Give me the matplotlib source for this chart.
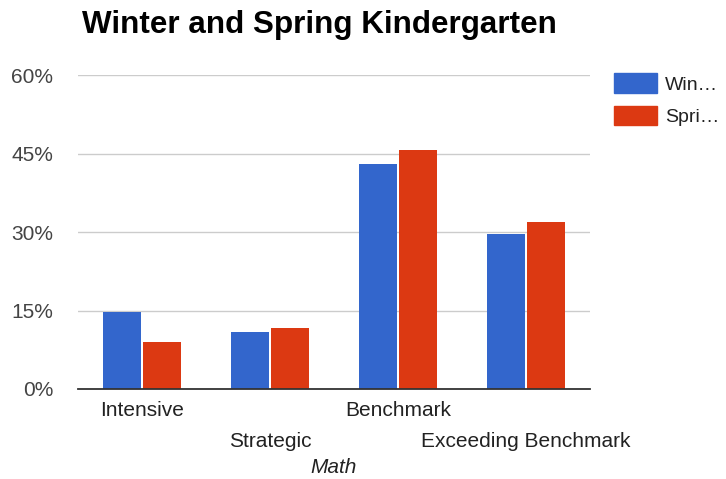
import numpy as np
import matplotlib
matplotlib.use("Agg")
import matplotlib.pyplot as plt
from matplotlib.patches import Patch

# math screening results, share of students per level
levels = ["Intensive", "Strategic", "Benchmark", "Exceeding Benchmark"]
winter = [14.7, 10.8, 43.0, 29.6]
spring = [8.9, 11.6, 45.7, 31.9]
series_labels = ["Win\u2026", "Spri\u2026"]
yticks = [0, 15, 30, 45, 60]

blue = "#3366cc"
red = "#dc3912"

plt.rcParams['font.family'] = ['Liberation Sans', 'DejaVu Sans']
fs = 15

fig = plt.figure(figsize=(7.26, 4.79), dpi=100)
W, H = 726, 479
ax = fig.add_axes([78 / W, 90 / H, 512 / W, 314 / H])

x = np.arange(len(levels))
bw = 0.297
off = 0.156
ax.bar(x - off, winter, bw, color=blue, zorder=3)
ax.bar(x + off, spring, bw, color=red, zorder=3)

ax.set_xlim(-0.5, len(levels) - 0.5)
ax.set_ylim(0, 60)
ax.set_yticks(yticks)
ax.set_yticklabels(["%d%%" % v for v in yticks], fontsize=fs, color="#444444")
ax.tick_params(axis="y", length=0, pad=18)
ax.yaxis.grid(True, color="#cccccc", linewidth=1, zorder=0)

# staggered category labels: even ones as major ticks, odd ones as minor ticks lower down
ax.set_xticks(x[::2])
ax.set_xticklabels(levels[::2], fontsize=fs, color="#222222")
ax.set_xticks(x[1::2], minor=True)
ax.set_xticklabels(levels[1::2], minor=True, fontsize=fs, color="#222222")
ax.tick_params(axis="x", which="major", length=0, pad=9)
ax.tick_params(axis="x", which="minor", length=0, pad=31)
ax.set_xlabel("Math", fontsize=fs, style="italic", color="#222222", labelpad=5)

for s in ["top", "right", "left"]:
    ax.spines[s].set_visible(False)
ax.spines["bottom"].set_color("#333333")
ax.spines["bottom"].set_linewidth(1.3)
ax.spines["bottom"].set_zorder(4)

fig.text(82 / W, 1 - 25 / H, "Winter and Spring Kindergarten", fontsize=22.6,
         fontweight="bold", ha="left", va="center", color="#000000")

handles = [Patch(color=blue), Patch(color=red)]
fig.legend(handles, series_labels, loc="upper left", bbox_to_anchor=(596 / W, 1 - 56 / H),
           frameon=False, fontsize=14, handlelength=2.26, handleheight=1.13,
           handletextpad=0.4, labelspacing=0.62, labelcolor="#222222")

fig.savefig("out.png", dpi=100, facecolor="white")
